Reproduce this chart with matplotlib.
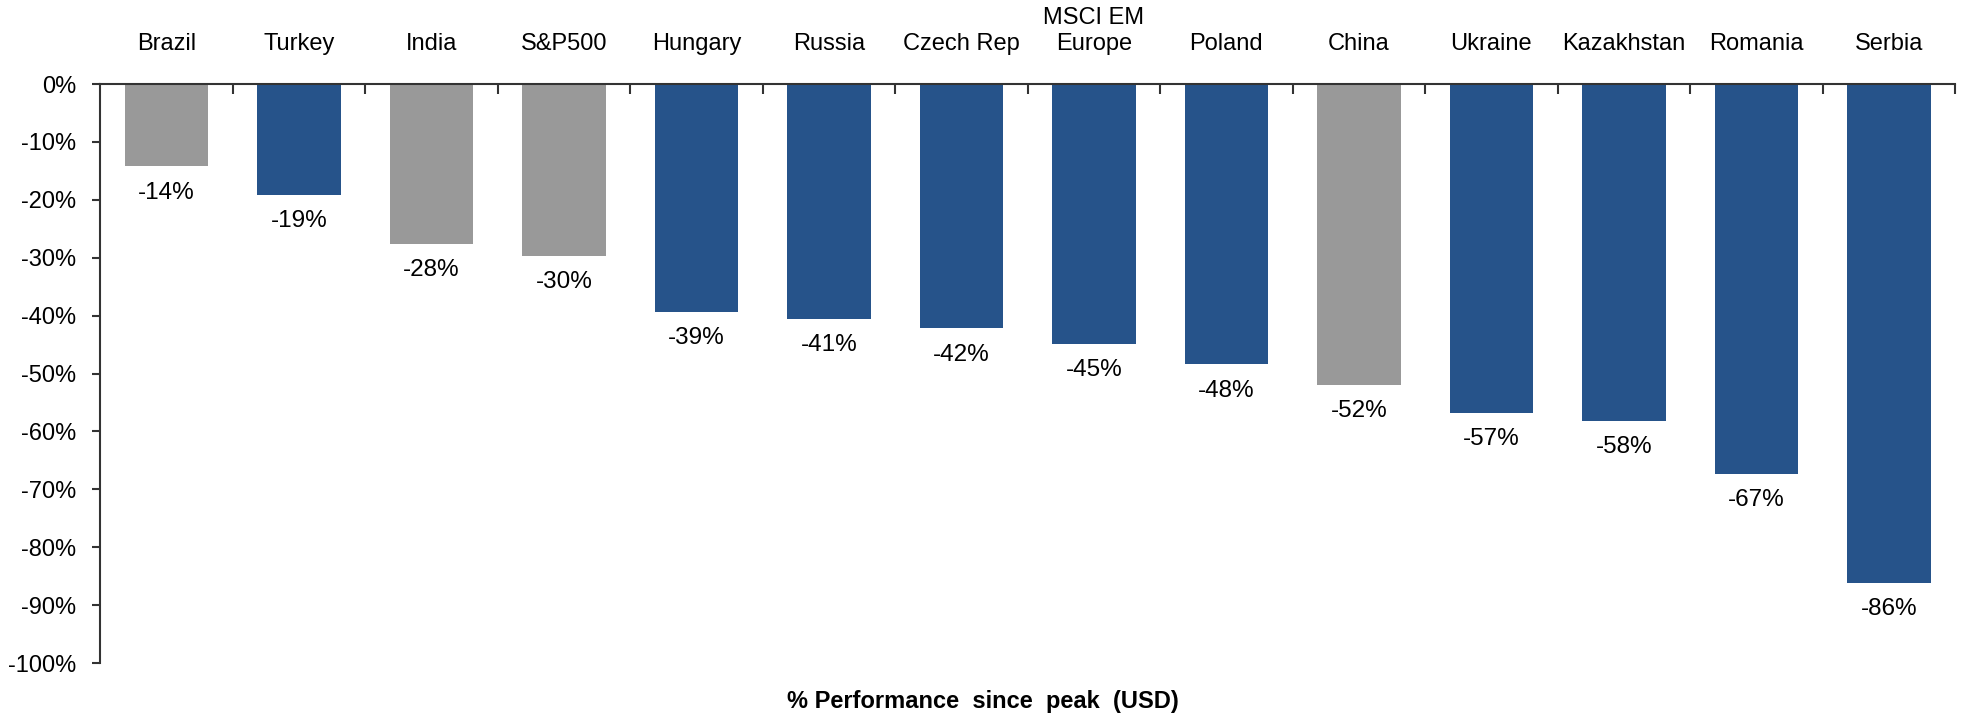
import matplotlib
matplotlib.use('Agg')
import matplotlib.pyplot as plt
from matplotlib.ticker import FuncFormatter, FixedLocator
import numpy as np

plt.rcParams['font.family'] = ['Liberation Sans', 'DejaVu Sans']
plt.rcParams['axes.unicode_minus'] = False

# data
markets = ["Brazil", "Turkey", "India", "S&P500", "Hungary", "Russia", "Czech Rep",
           "MSCI EM\nEurope", "Poland", "China", "Ukraine", "Kazakhstan", "Romania", "Serbia"]
perf = [-14.2, -19.2, -27.6, -29.7, -39.4, -40.6, -42.2, -44.9, -48.4, -52.0,
        -56.8, -58.2, -67.3, -86.1]
is_cee = [False, True, False, False, True, True, True, True, True, False,
          True, True, True, True]

BLUE = '#26538A'
GREY = '#999999'
AXIS = '#333333'

fig = plt.figure(figsize=(19.62, 7.17), dpi=100)
ax = fig.add_axes([0.051, 0.0753, 0.9455, 0.8075])

x = np.arange(len(markets))
colors = [BLUE if c else GREY for c in is_cee]
bars = ax.bar(x, perf, width=0.63, color=colors, zorder=2)

for b, v in zip(bars, perf):
    ax.annotate(f"{v:.0f}%", (b.get_x() + b.get_width() / 2, v),
                xytext=(0, -11), textcoords='offset points',
                ha='center', va='top', fontsize=17.5, color='black')

ax.set_xlim(-0.5, len(markets) - 0.5)
ax.set_ylim(-100, 0)

# y axis
ax.set_yticks(np.arange(-100, 1, 10))
ax.yaxis.set_major_formatter(FuncFormatter(lambda v, p: f"{v:.0f}%"))
ax.tick_params(axis='y', direction='out', length=6, width=1.5, color=AXIS,
               labelsize=17, pad=11)

# x axis along the zero line, labels on top
ax.xaxis.tick_top()
ax.set_xticks(x)
ax.set_xticklabels(markets)
ax.tick_params(axis='x', which='major', length=0, labelsize=17, pad=21)
ax.xaxis.set_minor_locator(FixedLocator(np.arange(0.5, len(markets), 1)))
ax.tick_params(axis='x', which='minor', direction='in', length=7, width=1.5,
               color=AXIS, top=True, bottom=False)

for s in ['right', 'bottom']:
    ax.spines[s].set_visible(False)
for s in ['left', 'top']:
    ax.spines[s].set_color(AXIS)
    ax.spines[s].set_linewidth(1.5)

fig.text(0.501, 0.005, "% Performance  since  peak  (USD)", ha='center', va='bottom',
         fontsize=17, fontweight='bold',
         family=['Liberation Sans Narrow', 'Liberation Sans'])

fig.savefig('out.png', dpi=100)
